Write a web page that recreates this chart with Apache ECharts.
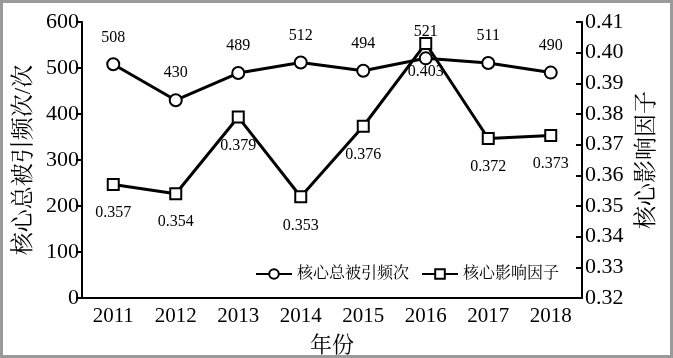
<!DOCTYPE html>
<html><head><meta charset="utf-8">
<script src="https://cdn.jsdelivr.net/npm/echarts@6/dist/echarts.min.js"></script>
<style>
html,body{margin:0;padding:0;background:#fff;}
#c{width:673px;height:358px;box-sizing:border-box;border:3px solid #9a9a9a;}
</style></head>
<body><div id="c"></div>
<script>
var years = ['2011','2012','2013','2014','2015','2016','2017','2018'];
var citations = [508,430,489,512,494,521,511,490];
var impact = [0.357,0.354,0.379,0.353,0.376,0.403,0.372,0.373];
var leftTicks = [0,100,200,300,400,500,600];
var rightTicks = [0.32,0.33,0.34,0.35,0.36,0.37,0.38,0.39,0.40,0.41];

var serif = '"Liberation Serif","DejaVu Serif",serif';
var cjk = '"Liberation Serif","Noto Serif CJK SC","Noto Sans CJK SC",serif';
var chart = echarts.init(document.getElementById('c'));
chart.setOption({
  animation:false,
  backgroundColor:'#fff',
  grid:{left:79,right:88,top:19,bottom:57,outerBoundsMode:'none',containLabel:false},
  legend:{
    left:247, top:258, itemWidth:36, itemHeight:12, itemGap:12,
    textStyle:{fontFamily:cjk, fontSize:16, color:'#000'},
    data:['核心总被引频次','核心影响因子']
  },
  xAxis:{
    type:'category', data:years, boundaryGap:true,
    name:'年份', nameLocation:'middle', nameGap:37,
    nameTextStyle:{fontFamily:cjk, fontSize:22, color:'#000'},
    axisLine:{lineStyle:{color:'#000',width:2}},
    axisTick:{inside:true,length:6,lineStyle:{color:'#000',width:2}},
    axisLabel:{fontFamily:serif,fontSize:21,color:'#000',margin:8},
    splitLine:{show:false}
  },
  yAxis:[{
    type:'value', min:0, max:600, interval:100, position:'left',
    name:'核心总被引频次/次', nameLocation:'middle', nameGap:42, nameRotate:90,
    nameTextStyle:{fontFamily:cjk, fontSize:23, color:'#000'},
    axisLine:{show:true,lineStyle:{color:'#000',width:2}},
    axisTick:{show:true,length:6,lineStyle:{color:'#000',width:2}},
    axisLabel:{fontFamily:serif,fontSize:22,color:'#000',margin:3,
      formatter:function(v){return leftTicks.indexOf(v)>=0?String(v):'';}},
    splitLine:{show:false}
  },{
    type:'value', min:0.32, max:0.41, interval:0.01, position:'right',
    name:'核心影响因子', nameLocation:'middle', nameGap:53, nameRotate:90,
    nameTextStyle:{fontFamily:cjk, fontSize:23, color:'#000'},
    axisLine:{show:true,lineStyle:{color:'#000',width:2}},
    axisTick:{show:true,inside:true,length:6,lineStyle:{color:'#000',width:2}},
    axisLabel:{fontFamily:serif,fontSize:22,color:'#000',margin:3,
      formatter:function(v){
        var r=Math.round(v*100)/100;
        return rightTicks.some(function(t){return Math.abs(t-r)<1e-9;})?r.toFixed(2):'';}},
    splitLine:{show:false}
  }],
  series:[{
    name:'核心总被引频次', type:'line', yAxisIndex:0, data:citations,
    symbol:'circle', symbolSize:12,
    lineStyle:{color:'#000',width:3},
    itemStyle:{color:'#fff',borderColor:'#000',borderWidth:2},
    label:{show:true,position:'top',distance:12,fontFamily:serif,fontSize:16,color:'#000'}
  },{
    name:'核心影响因子', type:'line', yAxisIndex:1, data:impact,
    symbol:'rect', symbolSize:11,
    lineStyle:{color:'#000',width:3},
    itemStyle:{color:'#fff',borderColor:'#000',borderWidth:2},
    label:{show:true,position:'bottom',distance:14,fontFamily:serif,fontSize:16,color:'#000',
      formatter:function(p){return p.value.toFixed(3);}}
  }]
});
</script></body></html>
